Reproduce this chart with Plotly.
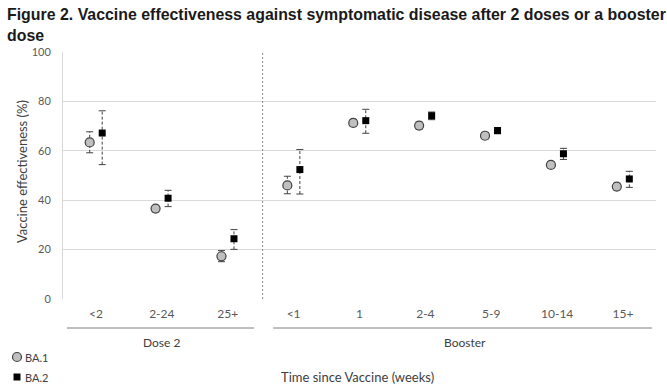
import plotly.graph_objects as go

categories = ["<2", "2-24", "25+", "<1", "1", "2-4", "5-9", "10-14", "15+"]
ba1_ve = [63.4, 36.6, 17.3, 46.0, 71.3, 70.2, 66.1, 54.3, 45.5]
ba1_lo = [59.2, 35.3, 15.1, 42.6, 69.8, 68.8, 64.8, 53.0, 44.2]
ba1_hi = [67.7, 37.8, 19.6, 49.7, 72.7, 71.6, 67.4, 55.6, 46.8]
ba2_ve = [67.2, 40.8, 24.4, 52.4, 72.2, 74.2, 68.2, 58.8, 48.6]
ba2_lo = [54.4, 37.4, 20.1, 42.5, 67.1, 72.6, 66.9, 56.5, 45.2]
ba2_hi = [76.2, 44.0, 28.1, 60.5, 76.8, 75.7, 69.4, 61.0, 51.7]
groups = ["Dose 2", "Booster"]
y_ticks = [0, 20, 40, 60, 80, 100]

OFF = 0.095
idx = list(range(len(categories)))
x1 = [i - OFF for i in idx]
x2 = [i + OFF for i in idx]

def err_lines(xs, lo, hi):
    ex, ey = [], []
    for x, l, h in zip(xs, lo, hi):
        ex += [x, x, None]
        ey += [l, h, None]
    return ex, ey

fig = go.Figure()
ERR_COL = "#404040"
for xs, lo, hi in [(x1, ba1_lo, ba1_hi), (x2, ba2_lo, ba2_hi)]:
    ex, ey = err_lines(xs, lo, hi)
    fig.add_trace(go.Scatter(x=ex, y=ey, mode="lines",
                             line=dict(color=ERR_COL, width=1, dash="3px,2px"),
                             showlegend=False, hoverinfo="skip"))
    fig.add_trace(go.Scatter(x=xs + xs, y=lo + hi, mode="markers",
                             marker=dict(symbol="line-ew", size=5,
                                         line=dict(color=ERR_COL, width=1)),
                             showlegend=False, hoverinfo="skip"))

fig.add_trace(go.Scatter(x=x1, y=ba1_ve, mode="markers", name="BA.1",
                         marker=dict(symbol="circle", size=9, color="#bfbfbf",
                                     line=dict(color="#404040", width=1.2)),
                         showlegend=False))
fig.add_trace(go.Scatter(x=x2, y=ba2_ve, mode="markers", name="BA.2",
                         marker=dict(symbol="square", size=7, color="#000000",
                                     line=dict(width=0)),
                         showlegend=False))

PL, PR, PT, PB = 63, 656, 52, 299
PW, PH = PR - PL, PB - PT

def px_x(p):
    return (p - PL) / PW
def px_y(p):
    return (PB - p) / PH

# separator between dose 2 and booster
fig.add_shape(type="line", xref="x", yref="paper", x0=2.53, x1=2.53, y0=0, y1=1,
              line=dict(color="#8c8c8c", width=1, dash="2px,2px"))

# group lines and labels
LINE_Y = px_y(328)
fig.add_shape(type="line", xref="x", yref="paper", x0=-0.44, x1=2.40, y0=LINE_Y, y1=LINE_Y,
              line=dict(color="#7f7f7f", width=1))
fig.add_shape(type="line", xref="x", yref="paper", x0=2.69, x1=8.44, y0=LINE_Y, y1=LINE_Y,
              line=dict(color="#7f7f7f", width=1))
LAB_Y = px_y(342)
fig.add_annotation(x=0.99, y=LAB_Y, xref="x", yref="paper", text=groups[0], showarrow=False,
                   font=dict(family="Lato", size=12, color="#404040"), yanchor="middle")
fig.add_annotation(x=5.6, y=LAB_Y, xref="x", yref="paper", text=groups[1], showarrow=False,
                   font=dict(family="Lato", size=12, color="#404040"), yanchor="middle")

# x axis title
fig.add_annotation(x=px_x(357), y=px_y(377), xref="paper", yref="paper", text="Time since Vaccine (weeks)",
                   showarrow=False, font=dict(family="Lato", size=13, color="#404040"),
                   yanchor="middle", xanchor="center")

# y axis title
fig.add_annotation(x=px_x(22), y=px_y(172), xref="paper", yref="paper", text="Vaccine effectiveness (%)",
                   showarrow=False, textangle=-90, font=dict(family="Lato", size=13, color="#404040"),
                   yanchor="middle", xanchor="center")

# title
fig.add_annotation(x=px_x(5), y=px_y(4), xref="paper", yref="paper",
                   text="<b>Figure 2. Vaccine effectiveness against symptomatic disease after 2 doses or a booster<br>dose</b>",
                   showarrow=False, xanchor="left", yanchor="top", align="left",
                   font=dict(family="Liberation Sans", size=15.9, color="#1a1a1a"))

# legend (manual)
fig.add_shape(type="circle", xref="paper", yref="paper", xsizemode="pixel", ysizemode="pixel",
              xanchor=px_x(17), yanchor=px_y(357), x0=-4.5, x1=4.5, y0=-4.5, y1=4.5,
              fillcolor="#bfbfbf", line=dict(color="#404040", width=1.2))
fig.add_shape(type="rect", xref="paper", yref="paper", xsizemode="pixel", ysizemode="pixel",
              xanchor=px_x(17), yanchor=px_y(377), x0=-3.5, x1=3.5, y0=-3.5, y1=3.5,
              fillcolor="#000000", line=dict(width=0))
fig.add_annotation(x=px_x(23), y=px_y(357), xref="paper", yref="paper", text="BA.1", showarrow=False,
                   xanchor="left", yanchor="middle", font=dict(family="Lato", size=11, color="#404040"))
fig.add_annotation(x=px_x(23), y=px_y(377), xref="paper", yref="paper", text="BA.2", showarrow=False,
                   xanchor="left", yanchor="middle", font=dict(family="Lato", size=11, color="#404040"))

fig.update_layout(
    width=667, height=392,
    margin=dict(l=PL, r=667 - PR, t=PT, b=392 - PB),
    paper_bgcolor="white", plot_bgcolor="white",
    xaxis=dict(range=[-0.5, 8.5], tickvals=idx, ticktext=categories, showgrid=False,
               zeroline=False, showline=False, ticks="", ticklabelstandoff=6,
               tickfont=dict(family="Lato", size=12, color="#595959"), fixedrange=True),
    yaxis=dict(range=[0, 100], tickvals=y_ticks, showgrid=True, gridcolor="#d9d9d9", gridwidth=1,
               zeroline=False, showline=True, linecolor="#d9d9d9", linewidth=1,
               ticks="", ticklabelstandoff=9, fixedrange=True,
               tickfont=dict(family="Lato", size=11, color="#595959")),
    showlegend=False,
)

fig.write_html("out.html", config={"displayModeBar": False},
               post_script="document.body.style.margin='0';document.body.style.overflow='hidden';")
